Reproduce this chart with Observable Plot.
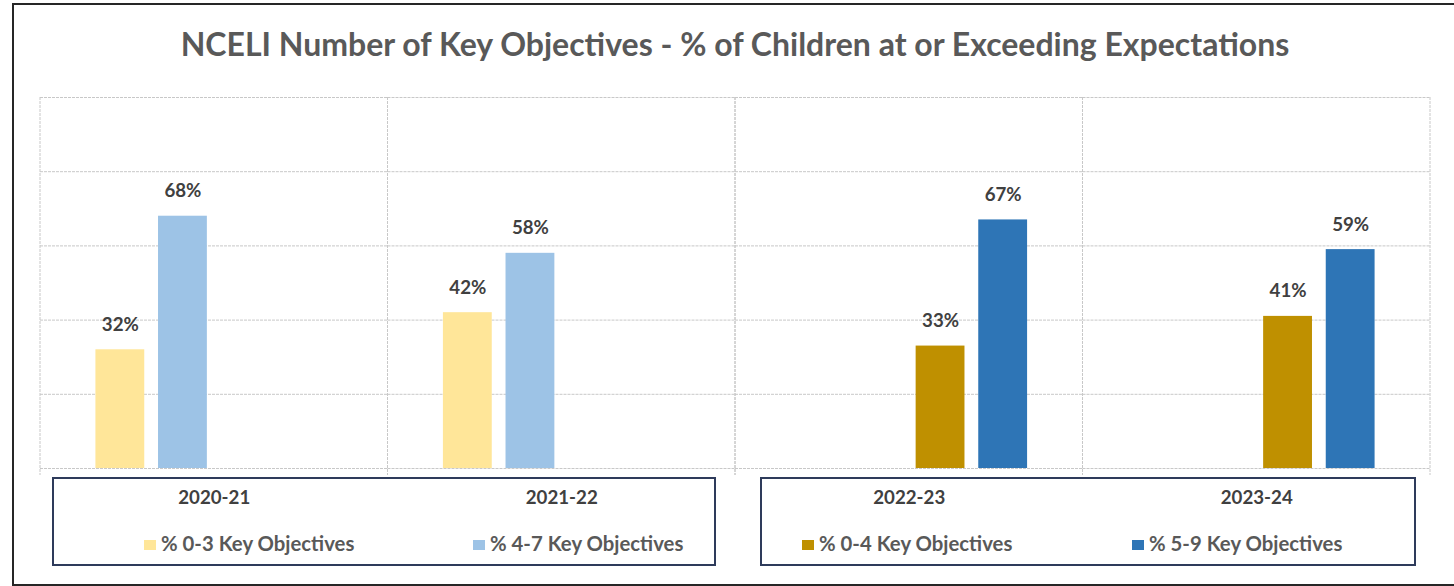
<!DOCTYPE html>
<html>
<head>
<meta charset="utf-8">
<script src="https://cdn.jsdelivr.net/npm/d3@7"></script>
<script src="https://cdn.jsdelivr.net/npm/@observablehq/plot@0.6"></script>
<style>
  html, body { margin: 0; padding: 0; background: #fff; overflow: hidden; }
  #wrap { position: relative; width: 1454px; height: 586px; font-family: Lato, "Open Sans", sans-serif; overflow: hidden; }
  #wrap svg { position: absolute; left: 0; top: 0; }
  .frame { position: absolute; left: 12px; top: 3px; width: 1442px; height: 583px; border: 2px solid #262626; border-right: none; box-sizing: border-box; pointer-events: none; }
  .box { position: absolute; border: 2px solid #2E3B5B; box-sizing: border-box; pointer-events: none; }
  #title { position: absolute; left: 0; width: 1470px; text-align: center; font-weight: 700; color: #595959; line-height: 1; white-space: nowrap; }
  .sw { position: absolute; width: 12px; height: 10px; }
  .lt { position: absolute; font-weight: 700; color: #595959; line-height: 1; white-space: nowrap; }
</style>
</head>
<body>
<div id="wrap"></div>
<script>
// ---- data ----
const titleText = "NCELI Number of Key Objectives - % of Children at or Exceeding Expectations";
const years = ["2020-21", "2021-22", "2022-23", "2023-24"];
const seriesNames = ["% 0-3 Key Objectives", "% 4-7 Key Objectives", "% 0-4 Key Objectives", "% 5-9 Key Objectives"];
const seriesColors = ["#FFE699", "#9DC3E6", "#BF9000", "#2E75B6"];
const pct03 = [32, 42, null, null];
const pct47 = [68, 58, null, null];
const pct04 = [null, null, 33, 41];
const pct59 = [null, null, 67, 59];
const gridTicks = [0, 20, 40, 60, 80, 100];

const seriesValues = [pct03, pct47, pct04, pct59];
const rows = [];
years.forEach((yr, i) => seriesNames.forEach((s, j) => {
  const v = seriesValues[j][i];
  if (v != null) rows.push({year: yr, series: s, value: v});
}));

// ---- font sizing helper ----
const cv = document.createElement("canvas").getContext("2d");
function fit(text, target) {
  cv.font = "700 100px Lato";
  return 100 * target / cv.measureText(text).width;
}
const titleSize = fit(titleText, 1112);
const axisSize = fit(years[0], 72);
const dataSize = fit("32%", 37);
const legendSize = fit(seriesNames[0], 194);

const wrap = document.getElementById("wrap");

// category boundary lines (drawn per facet)
function categoryLines(index, scales, values, dims) {
  const r = scales.x && scales.x.range ? scales.x.range() : [dims.marginLeft, dims.width - dims.marginRight];
  const yTop = scales.y(100), yBase = scales.y(0);
  const g = d3.create("svg:g").attr("stroke", "#c8c8c8").attr("stroke-dasharray", "3,1");
  for (const x of r) {
    g.append("line").attr("x1", x).attr("x2", x).attr("y1", yTop).attr("y2", yBase + 7);
  }
  return g.node();
}

const chart = Plot.plot({
  width: 1454,
  height: 586,
  marginLeft: 40,
  marginRight: 24,
  marginTop: 97,
  marginBottom: 118,
  style: {background: "transparent", color: "#404040", fontFamily: "Lato, sans-serif"},
  fx: {domain: years, padding: 0, round: false, label: null},
  x: {domain: seriesNames, paddingInner: 0.22, paddingOuter: 0.885, round: false, axis: null},
  y: {domain: [0, 100], axis: null},
  color: {domain: seriesNames, range: seriesColors},
  marks: [
    Plot.gridY(gridTicks, {stroke: "#c8c8c8", strokeOpacity: 1, strokeDasharray: "3,1"}),
    categoryLines,
    Plot.barY(rows, {fx: "year", x: "series", y: "value", fill: "series"}),
    Plot.text(rows, {fx: "year", x: "series", y: "value", text: d => `${d.value}%`,
      lineAnchor: "middle", dy: -25, fontWeight: 700, fontSize: dataSize, fill: "#404040"}),
    Plot.axisFx({anchor: "bottom", tickSize: 0, tickPadding: 35 - 0.71 * axisSize,
      fontSize: axisSize, fontWeight: 700, label: null})
  ]
});
wrap.appendChild(chart);

// outer frame
const frame = document.createElement("div");
frame.className = "frame";
wrap.appendChild(frame);

// title
const title = document.createElement("div");
title.id = "title";
title.textContent = titleText;
title.style.fontSize = titleSize + "px";
title.style.top = (56 - 0.887 * titleSize) + "px";
wrap.appendChild(title);

// axis/legend boxes
[[52, 477, 664, 89], [760, 477, 656, 89]].forEach(([l, t, w, h]) => {
  const b = document.createElement("div");
  b.className = "box";
  Object.assign(b.style, {left: l + "px", top: t + "px", width: w + "px", height: h + "px"});
  wrap.appendChild(b);
});

// legend entries
const legendX = [144, 473, 802, 1132];
seriesNames.forEach((name, i) => {
  const sw = document.createElement("div");
  sw.className = "sw";
  Object.assign(sw.style, {left: legendX[i] + "px", top: "540px", background: seriesColors[i]});
  wrap.appendChild(sw);
  const t = document.createElement("div");
  t.className = "lt";
  t.textContent = name;
  Object.assign(t.style, {left: (legendX[i] + 17) + "px", top: (551 - 0.887 * legendSize) + "px", fontSize: legendSize + "px"});
  wrap.appendChild(t);
});
</script>
</body>
</html>
